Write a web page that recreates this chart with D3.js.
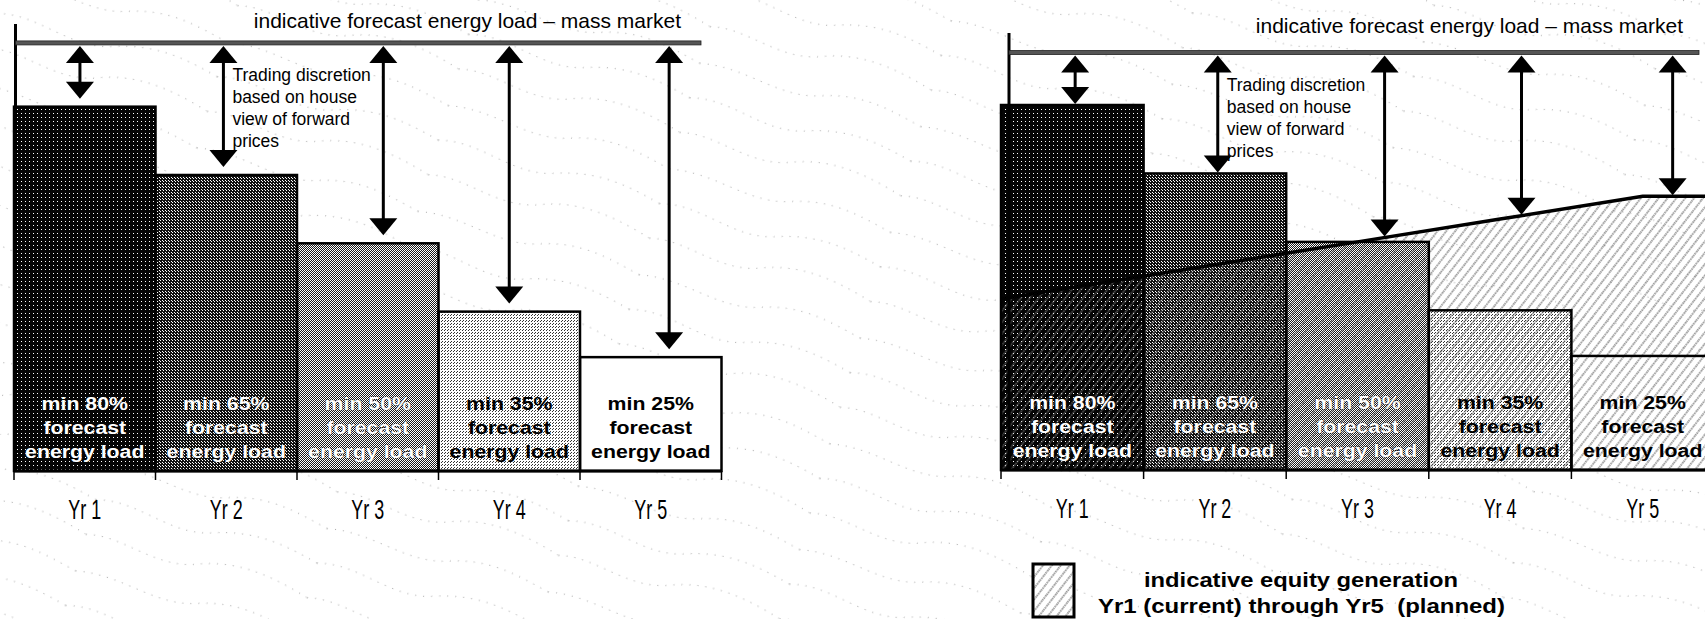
<!DOCTYPE html>
<html><head><meta charset="utf-8">
<script src="https://cdn.jsdelivr.net/npm/d3@7"></script>
<style>
body{margin:0;background:#fff;overflow:hidden;}
svg{display:block;font-family:"Liberation Sans",Arial,Helvetica,sans-serif;}
</style>
</head><body>
<svg id="chart" width="1705" height="619"></svg>
<script>
// ---------- data ----------
const years = ["Yr 1", "Yr 2", "Yr 3", "Yr 4", "Yr 5"];
const minHedgePct = [80, 65, 50, 35, 25];
const barLabelFirst = ["min 80%", "min 65%", "min 50%", "min 35%", "min 25%"];
const barLabelRest = ["forecast", "energy load"];
const massMarketLoad = [94, 91.5];          // load line level, left panel / right panel
const equityGeneration = [40, 45, 50, 55, 60]; // right panel only
const titleText = "indicative forecast energy load \u2013 mass market";
const noteLines = ["Trading discretion", "based on house", "view of forward", "prices"];
const legendLines = ["indicative equity generation", "Yr1 (current) through Yr5  (planned)"];

// ---------- layout ----------
const panels = [
  { xr: [14, 721.5], yr: [471, 15.6], axisX: 15.5, axisTop: 24, arrowPos: [0.466, 0.48, 0.61, 0.5, 0.63],
    arrowGap: 8, lineEnd: 701, titleEnd: 681, titleY: 28, equity: false, load: massMarketLoad[0] },
  { xr: [1001, 1714], yr: [470, 13.75], axisX: 1009, axisTop: 33, arrowPos: [0.52, 0.52, 0.69, 0.65, 0.71],
    arrowGap: 1, lineEnd: 1699, titleEnd: 1683, titleY: 33, equity: true, load: massMarketLoad[1] }
];

const svg = d3.select("#chart");
const defs = svg.append("defs");

// faint scanned-paper texture of dotted wavy lines
const bgp = defs.append("pattern").attr("id", "paper").attr("patternUnits", "userSpaceOnUse")
  .attr("width", 230).attr("height", 110).attr("patternTransform", "rotate(16)");
[
  "M0,14 C40,2 80,28 120,14 S190,4 230,14",
  "M0,50 C35,40 75,64 115,48 S195,40 230,50",
  "M0,88 C45,78 85,100 125,86 S195,80 230,88"
].forEach((d, k) => bgp.append("path").attr("d", d).attr("fill", "none")
  .attr("stroke", "#000").attr("stroke-width", 1).attr("stroke-dasharray", "1,7")
  .attr("opacity", 0.35));
svg.append("rect").attr("width", 1705).attr("height", 619).attr("fill", "url(#paper)");

function pixelPattern(id, size, bg, fg, pixels) {
  const p = defs.append("pattern").attr("id", id).attr("patternUnits", "userSpaceOnUse")
    .attr("x", 0).attr("y", 0).attr("width", size).attr("height", size);
  p.append("rect").attr("width", size).attr("height", size).attr("fill", bg);
  pixels.forEach(([px, py]) => p.append("rect").attr("x", px).attr("y", py).attr("width", 1).attr("height", 1).attr("fill", fg));
}
pixelPattern("p0", 4, "#050505", "#ffffff", [[1, 1]]);
pixelPattern("p1", 3, "#111111", "#ffffff", [[0, 0], [1, 1]]);
pixelPattern("p2", 2, "#1a1a1a", "#ffffff", [[0, 0], [1, 1]]);
pixelPattern("p3", 3, "#ffffff", "#333333", [[0, 0], [1, 2]]);
pixelPattern("p4", 2, "#ffffff", "#ffffff", []);
const barFills = ["url(#p0)", "url(#p1)", "url(#p2)", "url(#p3)", "url(#p4)"];
const labelColors = ["#fff", "#fff", "#fff", "#000", "#000"];

function hatchPattern(id, bg) {
  const h = defs.append("pattern").attr("id", id).attr("patternUnits", "userSpaceOnUse")
    .attr("width", 7).attr("height", 7).attr("patternTransform", "rotate(38)");
  h.append("rect").attr("width", 7).attr("height", 7).attr("fill", bg);
  h.append("line").attr("x1", 1).attr("y1", 0).attr("x2", 1).attr("y2", 7)
    .attr("stroke", "#6a6a6a").attr("stroke-width", 1.3).attr("stroke-dasharray", "1.6,0.8");
}
hatchPattern("hatch", "none");
hatchPattern("hatchW", "#fff");

panels.forEach(P => {
  const g = svg.append("g");
  const x = d3.scaleBand().domain(years).range(P.xr).padding(0);
  const y = d3.scaleLinear().domain([0, 100]).range(P.yr);
  const bw = x.bandwidth();
  const y0 = y(0);

  // bars
  g.selectAll(".bar").data(minHedgePct).join("rect")
    .attr("x", (d, i) => x(years[i])).attr("y", d => y(d))
    .attr("width", bw).attr("height", d => y0 - y(d))
    .attr("fill", (d, i) => barFills[i]);

  // equity generation area
  let eqPts = null;
  if (P.equity) {
    const e = equityGeneration;
    eqPts = [{ x: P.xr[0], v: e[0] - (e[1] - e[0]) / 2 }]
      .concat(years.map((d, i) => ({ x: x(d) + bw / 2, v: e[i] })))
      .concat([{ x: P.xr[1], v: e[e.length - 1] }]);
    g.append("path").datum(eqPts)
      .attr("d", d3.area().x(d => d.x).y0(y0).y1(d => y(d.v)))
      .attr("fill", "url(#hatch)");
  }

  // bar outlines
  g.selectAll(".outline").data(minHedgePct).join("rect")
    .attr("x", (d, i) => x(years[i])).attr("y", d => y(d))
    .attr("width", bw).attr("height", d => y0 - y(d))
    .attr("fill", "none").attr("stroke", "#000").attr("stroke-width", 2.5);

  if (P.equity) {
    g.append("path").datum(eqPts)
      .attr("d", d3.line().x(d => d.x).y(d => y(d.v)))
      .attr("fill", "none").attr("stroke", "#000").attr("stroke-width", 3.5);
  }

  // bottom axis line + edge ticks
  g.append("line").attr("x1", P.xr[0]).attr("x2", P.xr[1]).attr("y1", y0).attr("y2", y0)
    .attr("stroke", "#000").attr("stroke-width", 3);
  const edges = years.map(d => x(d)).concat([P.xr[1]]);
  g.selectAll(".tk").data(edges).join("line")
    .attr("x1", d => d).attr("x2", d => d).attr("y1", y0).attr("y2", y0 + 9)
    .attr("stroke", "#000").attr("stroke-width", 1.5);

  // category labels via axis
  const ax = g.append("g").attr("transform", `translate(0,${y0})`)
    .call(d3.axisBottom(x).tickSize(0).tickSizeOuter(0));
  ax.select(".domain").remove();
  ax.selectAll("text").attr("y", 48).attr("dy", 0)
    .attr("font-size", 28).attr("fill", "#000")
    .attr("font-family", "'Liberation Sans', Arial, sans-serif")
    .attr("transform", "scale(0.64,1)");

  // vertical axis
  g.append("line").attr("x1", P.axisX).attr("x2", P.axisX).attr("y1", P.axisTop).attr("y2", y0)
    .attr("stroke", "#000").attr("stroke-width", 3);

  // mass market load line
  const ly = y(P.load);
  g.append("rect").attr("x", P.axisX).attr("y", ly - 2).attr("width", P.lineEnd - P.axisX).attr("height", 4)
    .attr("fill", "#555").attr("stroke", "#222").attr("stroke-width", 0.8);
  g.append("text").attr("x", P.titleEnd).attr("y", P.titleY).attr("text-anchor", "end")
    .attr("font-size", 21).attr("fill", "#000").text(titleText);

  // bar labels
  years.forEach((d, i) => {
    const tg = g.append("g")
      .attr("transform", `translate(${x(d) + bw / 2},${y0 - 61}) scale(1.12,1)`);
    [barLabelFirst[i]].concat(barLabelRest).forEach((t, k) => {
      tg.append("text").attr("x", 0).attr("y", k * 24).attr("text-anchor", "middle")
        .attr("font-size", 19).attr("font-weight", "bold")
        .attr("fill", labelColors[i])
        .attr("stroke", labelColors[i] === "#fff" ? "#000" : "none")
        .attr("stroke-width", 0.6).attr("paint-order", "stroke")
        .text(t);
    });
  });

  // arrows
  function eqAt(px) {
    for (let k = 0; k < eqPts.length - 1; k++) {
      const a = eqPts[k], b = eqPts[k + 1];
      if (px >= a.x && px <= b.x) return y(a.v + (b.v - a.v) * (px - a.x) / (b.x - a.x));
    }
    return y(eqPts[eqPts.length - 1].v);
  }
  years.forEach((d, i) => {
    const ax0 = x(d) + P.arrowPos[i] * bw;
    let target = y(minHedgePct[i]);
    if (P.equity) target = Math.min(target, eqAt(ax0));
    const topTip = ly + 3;
    const botTip = target - P.arrowGap;
    const hw = 14, hh = 17;
    g.append("line").attr("x1", ax0).attr("x2", ax0).attr("y1", topTip + hh - 1).attr("y2", botTip - hh + 1)
      .attr("stroke", "#000").attr("stroke-width", 3);
    g.append("path").attr("d", `M${ax0},${topTip}L${ax0 - hw},${topTip + hh}L${ax0 + hw},${topTip + hh}Z`).attr("fill", "#000");
    g.append("path").attr("d", `M${ax0},${botTip}L${ax0 - hw},${botTip - hh}L${ax0 + hw},${botTip - hh}Z`).attr("fill", "#000");
    if (i === 1) {
      noteLines.forEach((t, k) => {
        g.append("text").attr("x", ax0 + 9).attr("y", ly + 38 + k * 22)
          .attr("font-size", 17.5).attr("fill", "#000").text(t);
      });
    }
  });

  // legend (right panel)
  if (P.equity) {
    g.append("rect").attr("x", 1033).attr("y", 564).attr("width", 41).attr("height", 53)
      .attr("fill", "url(#hatchW)").attr("stroke", "#000").attr("stroke-width", 3);
    g.append("text").attr("x", 1144).attr("y", 587).attr("font-size", 20).attr("font-weight", "bold")
      .attr("textLength", 314).attr("lengthAdjust", "spacingAndGlyphs").text(legendLines[0]);
    g.append("text").attr("x", 1098).attr("y", 613).attr("font-size", 20).attr("font-weight", "bold")
      .attr("style", "white-space:pre")
      .attr("textLength", 407).attr("lengthAdjust", "spacingAndGlyphs").text(legendLines[1]);
  }
});
</script>
</body></html>
